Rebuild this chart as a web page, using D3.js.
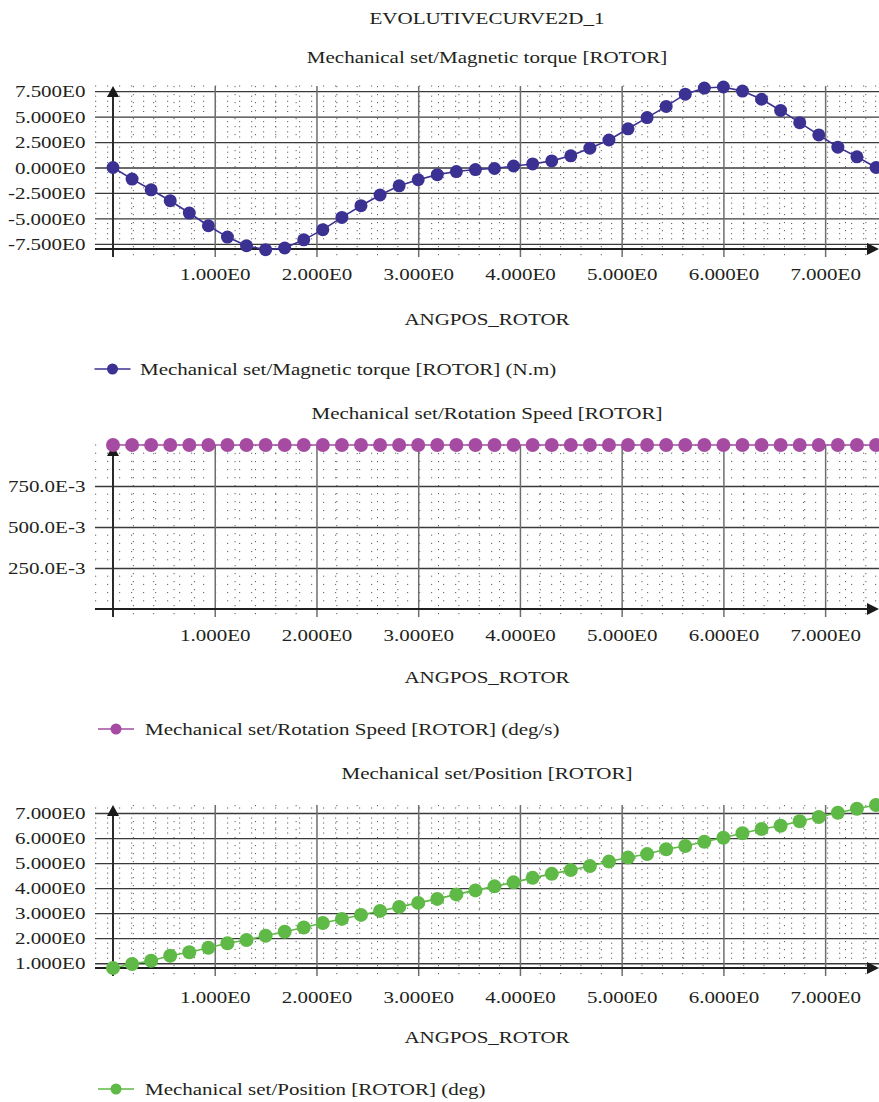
<!DOCTYPE html>
<html>
<head>
<meta charset="utf-8">
<script src="https://cdnjs.cloudflare.com/ajax/libs/d3/7.8.5/d3.min.js"></script>
<style>
body { margin: 0; background: #fff; }
text { font-family: "Liberation Serif", "Times New Roman", serif; font-size: 17.5px; fill: #231f20; }
</style>
</head>
<body>
<div class="interactive-wrapper"></div>
<script>

const chartTitle = "EVOLUTIVECURVE2D_1";
const xTitle = "ANGPOS_ROTOR";

const angpos = [0, 0.1875, 0.375, 0.5625, 0.75, 0.9375, 1.125, 1.3125, 1.5, 1.6875,
  1.875, 2.0625, 2.25, 2.4375, 2.625, 2.8125, 3, 3.1875, 3.375, 3.5625,
  3.75, 3.9375, 4.125, 4.3125, 4.5, 4.6875, 4.875, 5.0625, 5.25, 5.4375,
  5.625, 5.8125, 6, 6.1875, 6.375, 6.5625, 6.75, 6.9375, 7.125, 7.3125, 7.5];

const torque = [0, -1.14, -2.19, -3.26, -4.47, -5.72, -6.83, -7.68, -8.07, -7.9,
  -7.1, -6.1, -4.9, -3.75, -2.7, -1.8, -1.2, -0.7, -0.4, -0.2,
  -0.1, 0.15, 0.35, 0.65, 1.15, 1.9, 2.7, 3.8, 4.9, 6.0,
  7.2, 7.8, 7.9, 7.5, 6.7, 5.6, 4.4, 3.2, 2.0, 1.05, 0];

const speed = [1, 1, 1, 1, 1, 1, 1, 1, 1, 1,
  1, 1, 1, 1, 1, 1, 1, 1, 1, 1,
  1, 1, 1, 1, 1, 1, 1, 1, 1, 1,
  1, 1, 1, 1, 1, 1, 1, 1, 1, 1, 1];

const position = [0.81, 0.97, 1.10, 1.30, 1.44, 1.62, 1.80, 1.93, 2.10, 2.26,
  2.43, 2.61, 2.77, 2.93, 3.09, 3.25, 3.41, 3.57, 3.75, 3.91,
  4.07, 4.23, 4.41, 4.57, 4.72, 4.88, 5.06, 5.22, 5.36, 5.55,
  5.68, 5.85, 6.01, 6.19, 6.36, 6.49, 6.67, 6.84, 7.01, 7.17, 7.32];

const xTicks = [1, 2, 3, 4, 5, 6, 7];
const xTickLabels = ["1.000E0", "2.000E0", "3.000E0", "4.000E0", "5.000E0", "6.000E0", "7.000E0"];

const torqueTicks = [-7.5, -5, -2.5, 0, 2.5, 5, 7.5];
const torqueTickLabels = ["-7.500E0", "-5.000E0", "-2.500E0", "0.000E0", "2.500E0", "5.000E0", "7.500E0"];

const speedTicks = [0.25, 0.5, 0.75];
const speedTickLabels = ["250.0E-3", "500.0E-3", "750.0E-3"];

const positionTicks = [1, 2, 3, 4, 5, 6, 7];
const positionTickLabels = ["1.000E0", "2.000E0", "3.000E0", "4.000E0", "5.000E0", "6.000E0", "7.000E0"];

const titles = ["Mechanical set/Magnetic torque [ROTOR]", "Mechanical set/Rotation Speed [ROTOR]", "Mechanical set/Position [ROTOR]"];
const legends = ["Mechanical set/Magnetic torque [ROTOR] (N.m)", "Mechanical set/Rotation Speed [ROTOR] (deg/s)", "Mechanical set/Position [ROTOR] (deg)"];


const W = 879, H = 1102;
const sx = 1.2; // glyphs in the picture are stretched sideways
const gridLeft = 95, gridRight = 879, midX = 487;

let panels = [
  {values: torque, ticks: torqueTicks, labels: torqueTickLabels, domain: [-8, 8], minor: 0.5,
    top: 86, bottom: 249, color: "#3b3192", r: 6.5,
    titleY: 57, xLabelY: 274, xTitleY: 319, legendY: 369, legendX: 140, legendC: 112.5},
  {values: speed, ticks: speedTicks, labels: speedTickLabels, domain: [0, 1], minor: 0.05,
    top: 445, bottom: 609, color: "#a54ca2", r: 7,
    titleY: 413, xLabelY: 635, xTitleY: 677, legendY: 729, legendX: 145, legendC: 116},
  {values: position, ticks: positionTicks, labels: positionTickLabels, domain: [0.81, 7.32], minor: 0.2,
    top: 805, bottom: 968, color: "#5fb946", r: 7,
    titleY: 773, xLabelY: 997, xTitleY: 1037, legendY: 1089, legendX: 145, legendC: 116}
];

titles.forEach((t, i) => panels[i].title = t);
legends.forEach((t, i) => panels[i].legend = t);

let svg = d3.select(".interactive-wrapper").append("svg")
  .attr("width", W)
  .attr("height", H);

let xScale = d3.scaleLinear()
  .domain([0, 7.5])
  .range([113, 876]);

function label(g, x, y, str, anchor) {
  return g.append("text")
    .attr("transform", "translate(" + x + "," + y + ") scale(" + sx + ",1)")
    .attr("dy", "0.35em")
    .style("text-anchor", anchor || "middle")
    .text(str);
}

label(svg, midX, 18, chartTitle);

panels.forEach(p => {

  let yScale = d3.scaleLinear()
    .domain(p.domain)
    .range([p.bottom, p.top]);

  let g = svg.append("g");
  let axisBottomY = p.bottom + 8;

  // dotted minor grid
  let yMinor = d3.range(Math.ceil(p.domain[0] / p.minor), Math.floor(p.domain[1] / p.minor) + 1)
    .map(k => k * p.minor)
    .filter(v => !p.ticks.some(t => Math.abs(t - v) < 1e-6));

  g.append("g").selectAll("line")
    .data(yMinor)
    .join("line")
    .attr("x1", gridLeft)
    .attr("x2", gridRight)
    .attr("y1", d => yScale(d))
    .attr("y2", d => yScale(d))
    .attr("stroke", "#5f5f5f")
    .attr("stroke-width", 1)
    .attr("stroke-dasharray", "1.2,10.8");

  let xMinor = d3.range(1, 38).map(k => k * 0.2).filter(v => Math.abs(v - Math.round(v)) > 1e-6);

  g.append("g").selectAll("line")
    .data(xMinor)
    .join("line")
    .attr("x1", d => xScale(d))
    .attr("x2", d => xScale(d))
    .attr("y1", p.top)
    .attr("y2", axisBottomY)
    .attr("stroke", "#5f5f5f")
    .attr("stroke-width", 1)
    .attr("stroke-dasharray", "1.2,6.8");

  // major grid + tick labels
  let yaxis = g.append("g")
    .attr("class", "y axis")
    .attr("transform", "translate(" + gridLeft + ",0)")
    .call(
      d3.axisLeft(yScale)
      .tickValues(p.ticks)
      .tickFormat((d, i) => p.labels[i])
      .tickSizeInner(-(gridRight - gridLeft))
      .tickSizeOuter(0)
      .tickPadding(8)
    );
  yaxis.select(".domain").remove();
  yaxis.attr("font-family", null).attr("font-size", null);
  yaxis.selectAll("line").attr("stroke", "#3a3a3a").attr("stroke-width", 1.3);
  yaxis.selectAll("text")
    .attr("transform", "scale(" + sx + ",1)")
    .style("fill", "#231f20");

  let xaxis = g.append("g")
    .attr("class", "x axis")
    .attr("transform", "translate(0," + axisBottomY + ")")
    .call(
      d3.axisBottom(xScale)
      .tickValues(xTicks)
      .tickFormat((d, i) => xTickLabels[i])
      .tickSizeInner(-(axisBottomY - p.top))
      .tickSizeOuter(0)
    );
  xaxis.select(".domain").remove();
  xaxis.attr("font-family", null).attr("font-size", null);
  xaxis.selectAll("line").attr("stroke", "#6e6e6e").attr("stroke-width", 1.5);
  xaxis.selectAll("text")
    .attr("y", p.xLabelY - axisBottomY)
    .attr("dy", "0.35em")
    .attr("transform", "scale(" + sx + ",1)")
    .style("fill", "#231f20");

  // axes with arrows
  let x0 = xScale(0);
  g.append("line")
    .attr("x1", x0).attr("x2", x0)
    .attr("y1", p.top + 4).attr("y2", axisBottomY)
    .attr("stroke", "#2a2a2a")
    .attr("stroke-width", 2);

  g.append("path")
    .attr("d", d3.line()([[x0, p.top], [x0 - 6, p.top + 11], [x0 + 6, p.top + 11]]) + "Z")
    .attr("fill", "#1a1a1a");

  g.append("line")
    .attr("x1", gridLeft).attr("x2", gridRight - 8)
    .attr("y1", yScale(p.domain[0])).attr("y2", yScale(p.domain[0]))
    .attr("stroke", "#1f1f1f")
    .attr("stroke-width", 2);

  g.append("path")
    .attr("d", d3.line()([[gridRight, p.bottom], [gridRight - 12, p.bottom - 6], [gridRight - 12, p.bottom + 6]]) + "Z")
    .attr("fill", "#1a1a1a");

  // series
  let pts = angpos.map((a, i) => ({x: a, y: p.values[i]}));

  g.append("path")
    .datum(pts)
    .attr("fill", "none")
    .attr("stroke", p.color)
    .attr("stroke-width", 1.6)
    .attr("d", d3.line().x(d => xScale(d.x)).y(d => yScale(d.y)));

  g.selectAll(".dot")
    .data(pts)
    .enter().append("circle")
    .attr("class", "dot")
    .attr("cx", d => xScale(d.x))
    .attr("cy", d => yScale(d.y))
    .attr("r", p.r)
    .attr("fill", p.color);

  // texts
  label(svg, midX, p.titleY, p.title);
  label(svg, midX, p.xTitleY, xTitle);

  svg.append("line")
    .attr("x1", p.legendC - 18).attr("x2", p.legendC + 18)
    .attr("y1", p.legendY).attr("y2", p.legendY)
    .attr("stroke", p.color)
    .attr("stroke-width", 1.6);
  svg.append("circle")
    .attr("cx", p.legendC)
    .attr("cy", p.legendY)
    .attr("r", 5.5)
    .attr("fill", p.color);
  label(svg, p.legendX, p.legendY, p.legend, "start");

});

</script>
</body>
</html>
